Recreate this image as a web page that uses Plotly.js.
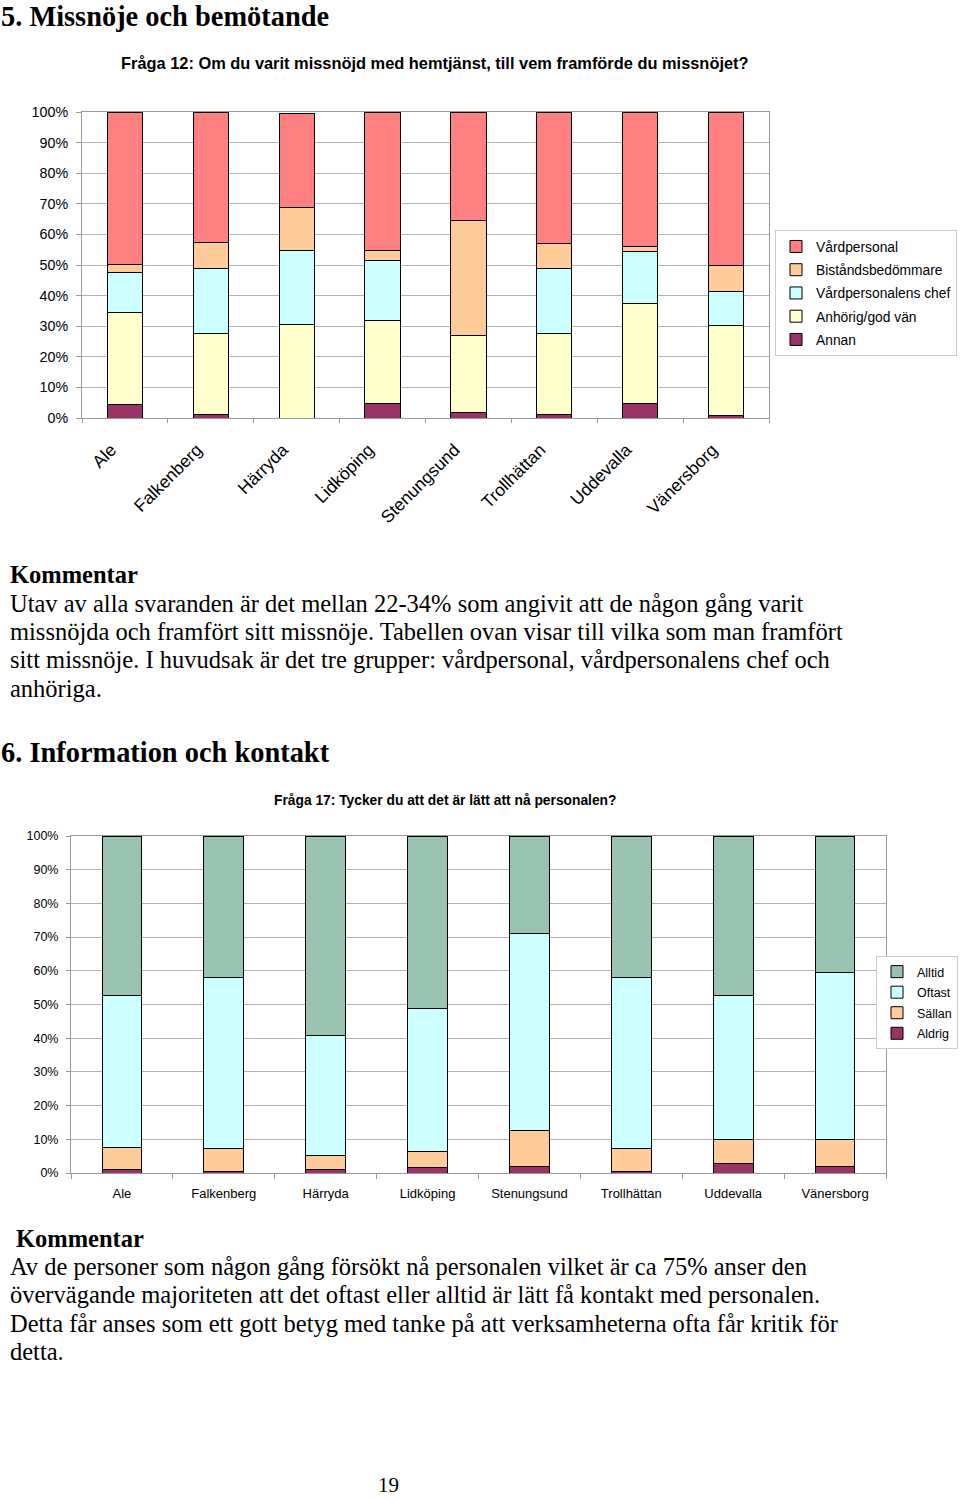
<!DOCTYPE html>
<html><head><meta charset="utf-8">
<script src="https://cdn.plot.ly/plotly-3.0.1.min.js"></script>
<style>html,body{margin:0;padding:0;background:#fff;overflow:hidden}#chart{width:960px;height:1499px}</style>
</head><body><div id="chart"></div>
<script>
// Categories
const municipalities = ['Ale','Falkenberg','Härryda','Lidköping','Stenungsund','Trollhättan','Uddevalla','Vänersborg'];
// Fråga 12 (percent)
const annan        = [4.5, 1.1, 0.0, 4.8, 1.9, 1.1, 4.7, 0.7];
const anhorig      = [30.1, 26.4, 30.7, 27.1, 25.1, 26.4, 32.8, 29.5];
const chef         = [13.1, 21.3, 24.2, 19.7, 0.0, 21.4, 17.0, 11.0];
const bistand      = [2.4, 8.6, 13.8, 3.3, 37.6, 8.0, 1.7, 8.5];
const vardpersonal = [49.9, 42.6, 30.8, 45.1, 35.4, 43.1, 43.8, 50.3];
// Fråga 17 (percent)
const aldrig = [1.0, 0.3, 1.0, 1.5, 1.8, 0.3, 2.8, 1.8];
const sallan = [6.6, 7.0, 4.1, 4.8, 10.7, 7.0, 7.0, 8.2];
const oftast = [45.2, 50.7, 35.7, 42.5, 58.6, 50.7, 43.0, 49.5];
const alltid = [47.2, 42.0, 59.2, 51.2, 28.9, 42.0, 47.2, 40.5];
// Tick labels
const yTickVals = [0,10,20,30,40,50,60,70,80,90,100];
const yTickText = ['0%','10%','20%','30%','40%','50%','60%','70%','80%','90%','100%'];
// rotated labels, padded so that their end sits a little left of the bar centre
const rotatedLabels = municipalities.map(m => m + '\u00a0\u00a0\u00a0\u00a0');

const W = 960, H = 1499;
const px = v => v / W;
const py = v => 1 - v / H;

const serif = 'Liberation Serif, Times New Roman, serif';
const sans = 'Liberation Sans, Arial, sans-serif';

function bar(name, y, color, xa, ya, lg, w, rank) {
  return {type:'bar', name, x: municipalities, y, xaxis: xa, yaxis: ya, legend: lg, legendgroup: name,
    legendrank: rank, width: w, marker: {color, line: {color: '#000', width: 1}}, hoverinfo: 'skip'};
}

const data = [
  bar('Annan', annan, '#993366', 'x', 'y', 'legend', 0.41, 5),
  bar('Anhörig/god vän', anhorig, '#FFFFCC', 'x', 'y', 'legend', 0.41, 4),
  bar('Vårdpersonalens chef', chef, '#CCFFFF', 'x', 'y', 'legend', 0.41, 3),
  bar('Biståndsbedömmare', bistand, '#FFCC99', 'x', 'y', 'legend', 0.41, 2),
  bar('Vårdpersonal', vardpersonal, '#FF8080', 'x', 'y', 'legend', 0.41, 1),
  bar('Aldrig', aldrig, '#993366', 'x2', 'y2', 'legend2', 0.39, 4),
  bar('Sällan', sallan, '#FFCC99', 'x2', 'y2', 'legend2', 0.39, 3),
  bar('Oftast', oftast, '#CCFFFF', 'x2', 'y2', 'legend2', 0.39, 2),
  bar('Alltid', alltid, '#99C2B1', 'x2', 'y2', 'legend2', 0.39, 1)
];

function ann(text, x, y, size, opts) {
  return Object.assign({text, x: px(x), y: py(y), xref:'paper', yref:'paper', showarrow:false,
    xanchor:'left', yanchor:'middle', font:{family: serif, size, color:'#000'}}, opts || {});
}

const P = 24.5;
const annotations = [
  ann('<b>5. Missnöje och bemötande</b>', -1, 16, 28.4),
  ann('<b>Fråga 12: Om du varit missnöjd med hemtjänst, till vem framförde du missnöjet?</b>', 435, 63, 16.4, {xanchor:'center', font:{family:sans,size:16.4,color:'#000'}}),
  ann('<b>Kommentar</b>', 8, 575, P),
  ann('Utav av alla svaranden är det mellan 22-34% som angivit att de någon gång varit', 8, 603, P),
  ann('missnöjda och framfört sitt missnöje. Tabellen ovan visar till vilka som man framfört', 8, 631, P),
  ann('sitt missnöje. I huvudsak är det tre grupper: vårdpersonal, vårdpersonalens chef och', 8, 660, P),
  ann('anhöriga.', 8, 688, P),
  ann('<b>6. Information och kontakt</b>', -1, 752, 28.4),
  ann('<b>Fråga 17: Tycker du att det är lätt att nå personalen?</b>', 445, 800, 13.8, {xanchor:'center', font:{family:sans,size:13.8,color:'#000'}}),
  ann('<b>Kommentar</b>', 14, 1238, P),
  ann('Av de personer som någon gång försökt nå personalen vilket är ca 75% anser den', 8, 1266, P),
  ann('övervägande majoriteten att det oftast eller alltid är lätt få kontakt med personalen.', 8, 1294, P),
  ann('Detta får anses som ett gott betyg med tanke på att verksamheterna ofta får kritik för', 8, 1323, P),
  ann('detta.', 8, 1351, P),
  ann('19', 388, 1485, 21, {xanchor:'center'})
];

const gridC = '#b4b4b4';
const layout = {
  width: W, height: H, margin: {l:0, r:0, t:0, b:0, autoexpand: false},
  paper_bgcolor: '#fff', plot_bgcolor: '#fff',
  barmode: 'stack', showlegend: true,
  font: {family: sans, color: '#000'},
  xaxis: {domain: [px(82), px(769)], anchor: 'y', type: 'category', tickangle: -45,
    tickmode: 'array', tickvals: municipalities, ticktext: rotatedLabels,
    tickfont: {size: 17.5, family: sans}, ticks: 'outside', tickson: 'boundaries', ticklen: 4, tickcolor: '#999',
    ticklabelstandoff: 0, showline: true, linecolor: '#999', mirror: true, showgrid: false},
  yaxis: {domain: [py(418), py(112)], anchor: 'x', range: [0, 100], tickvals: yTickVals, ticktext: yTickText,
    tickfont: {size: 14.3, family: sans}, ticks: 'outside', ticklen: 5, tickcolor: '#999', ticklabelstandoff: 5,
    showgrid: true, gridcolor: gridC, showline: true, linecolor: '#999', mirror: true, zeroline: false},
  xaxis2: {domain: [px(71), px(886)], anchor: 'y2', type: 'category', tickangle: 0,
    tickfont: {size: 13, family: sans}, ticks: 'outside', tickson: 'boundaries', ticklen: 5, tickcolor: '#999',
    ticklabelstandoff: 8, showline: true, linecolor: '#999', mirror: true, showgrid: false},
  yaxis2: {domain: [py(1173), py(836)], anchor: 'x2', range: [0, 100], tickvals: yTickVals, ticktext: yTickText,
    tickfont: {size: 12.5, family: sans}, ticks: 'outside', ticklen: 4, tickcolor: '#999', ticklabelstandoff: 5,
    showgrid: true, gridcolor: gridC, showline: true, linecolor: '#999', mirror: true, zeroline: false},
  legend: {x: px(957), y: py(230), xanchor: 'right', yanchor: 'top', bgcolor: '#fff',
    bordercolor: '#ccc', borderwidth: 1, font: {size: 13.8, family: sans}, traceorder: 'grouped',
    tracegroupgap: 2.3, itemclick: false},
  legend2: {x: px(958), y: py(956), xanchor: 'right', yanchor: 'top', bgcolor: '#fff',
    bordercolor: '#ccc', borderwidth: 1, font: {size: 12.5, family: sans}, traceorder: 'grouped',
    tracegroupgap: 1.3, itemclick: false},
  annotations
};

Plotly.newPlot('chart', data, layout, {staticPlot: true, displayModeBar: false});
</script>
</body></html>
